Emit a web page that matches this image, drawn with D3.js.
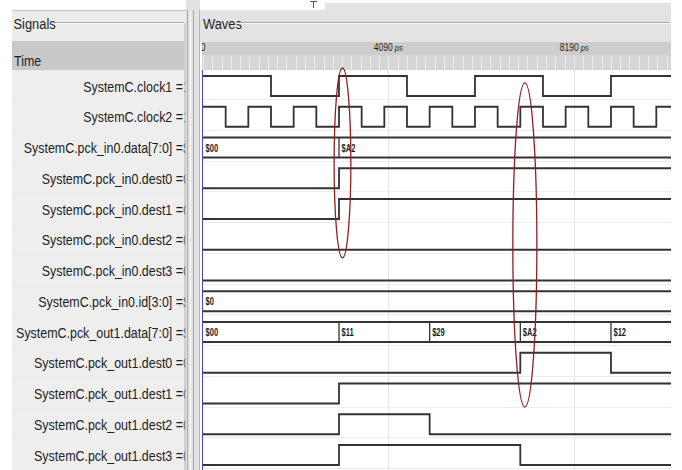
<!DOCTYPE html>
<html><head><meta charset="utf-8">
<script src="https://cdn.jsdelivr.net/npm/d3@7"></script>
<style>body{margin:0;background:#fff}svg{display:block}</style>
</head><body><svg id="c" width="682" height="470"></svg>
<script>
// ---------- data ----------
const signalNames = [
  "SystemC.clock1", "SystemC.clock2", "SystemC.pck_in0.data[7:0]",
  "SystemC.pck_in0.dest0", "SystemC.pck_in0.dest1", "SystemC.pck_in0.dest2",
  "SystemC.pck_in0.dest3", "SystemC.pck_in0.id[3:0]", "SystemC.pck_out1.data[7:0]",
  "SystemC.pck_out1.dest0", "SystemC.pck_out1.dest1", "SystemC.pck_out1.dest2",
  "SystemC.pck_out1.dest3"
];
const cursorValues = ["1", "1", "$A2", "0", "0", "0", "0", "$0", "$A2", "0", "0", "0", "0"];
const signalKinds = ["bit", "bit", "bus", "bit", "bit", "bit", "bit", "bus", "bus", "bit", "bit", "bit", "bit"];

const timeTickValues = [0, 4090, 8190];          // ps
const timeTickLabels = ["0", "4090 ps", "8190 ps"];
const timeEnd = 10324;                            // ps, right edge of the view
const minorTickStep = 204.5;                      // ps

// transitions: [time ps, value]
const clock1 = [[0,1],[1500,0],[3000,1],[4500,0],[6000,1],[7500,0],[9000,1]];
const clock2 = [[0,1],[500,0],[1000,1],[1500,0],[2000,1],[2500,0],[3000,1],[3500,0],
  [4000,1],[4500,0],[5000,1],[5500,0],[6000,1],[6500,0],[7000,1],[7500,0],
  [8000,1],[8500,0],[9000,1],[9500,0],[10000,1]];
const in0Data  = [[0,"$00"],[3000,"$A2"]];
const in0Dest0 = [[0,0],[3000,1]];
const in0Dest1 = [[0,0],[3000,1]];
const in0Dest2 = [[0,0]];
const in0Dest3 = [[0,0]];
const in0Id    = [[0,"$0"]];
const out1Data  = [[0,"$00"],[3000,"$11"],[5000,"$29"],[7000,"$A2"],[9000,"$12"]];
const out1Dest0 = [[0,0],[7000,1],[9000,0]];
const out1Dest1 = [[0,0],[3000,1]];
const out1Dest2 = [[0,0],[3000,1],[5000,0]];
const out1Dest3 = [[0,0],[3000,1],[7000,0]];
const signalData = [clock1, clock2, in0Data, in0Dest0, in0Dest1, in0Dest2, in0Dest3,
  in0Id, out1Data, out1Dest0, out1Dest1, out1Dest2, out1Dest3];

// red hand-drawn marks: centre time, half-width (ps), row span (row index units)
const marks = [
  {t: 3077, half: 185, rowTop: -0.585, rowBottom: 5.59},
  {t: 7100, half: 265, rowTop: -0.1, rowBottom: 10.44}
];

// ---------- layout ----------
const svg = d3.select("#c");
const FONT = "'Liberation Sans',Arial,sans-serif";
const NARROW = 0.83;
const waveLeft = 203, waveRight = 671;
const x = d3.scaleLinear().domain([0, timeEnd]).range([waveLeft, waveRight]);
const rowY = d3.scaleLinear().domain([0, 1]).range([86, 116.75]);
const pitch = rowY(1) - rowY(0);
const level = v => v ? -10 : 10;

function narrowText(parent, tx, ty, str, size, anchor, sx) {
  return parent.append("text")
    .attr("transform", `translate(${tx},${ty}) scale(${sx || NARROW},1)`)
    .attr("text-anchor", anchor || "start")
    .attr("font-family", FONT).attr("font-size", size).attr("fill", "#1e1e1e").text(str);
}

const defs = svg.append("defs");
defs.append("clipPath").attr("id", "labClip").append("rect")
  .attr("x", 0).attr("y", 0).attr("width", 185.5).attr("height", 470);
defs.append("clipPath").attr("id", "waveClip").append("rect")
  .attr("x", 202).attr("y", 0).attr("width", waveRight - 202).attr("height", 470);

// ---------- left panel ----------
const L = svg.append("g");
L.append("rect").attr("x", 12).attr("y", 10).attr("width", 174).attr("height", 460).attr("fill", "#ececec");
L.append("line").attr("x1", 12).attr("x2", 186).attr("y1", 10.5).attr("y2", 10.5).attr("stroke", "#c4c4c4");
narrowText(L, 13.5, 29, "Signals", 15.5);
L.append("line").attr("x1", 55).attr("x2", 184).attr("y1", 22.5).attr("y2", 22.5).attr("stroke", "#a6a6a6");
L.append("line").attr("x1", 55).attr("x2", 184).attr("y1", 23.5).attr("y2", 23.5).attr("stroke", "#fafafa");
L.append("rect").attr("x", 12).attr("y", 41).attr("width", 172).attr("height", 29).attr("fill", "#c9c9c9");
narrowText(L, 14, 66, "Time", 15);

const rowsL = L.append("g").attr("clip-path", "url(#labClip)")
  .selectAll("g.row").data(signalNames).join("g").attr("class", "row");
rowsL.append("rect").attr("x", 12).attr("y", (d, i) => rowY(i) - pitch / 2 + 0.5)
  .attr("width", 172).attr("height", pitch - 1).attr("fill", "#eeeeee");
rowsL.each(function (d, i) {
  const g = d3.select(this);
  narrowText(g, 183, rowY(i) + 5.5, d + " =", 15, "end");
  narrowText(g, 183.3, rowY(i) + 5.5, cursorValues[i], 15, "start");
});
L.append("line").attr("x1", 185).attr("x2", 185).attr("y1", 23).attr("y2", 470).attr("stroke", "#b0b0b0");

// splitter
svg.append("rect").attr("x", 186).attr("y", 0).attr("width", 14).attr("height", 470).attr("fill", "#e2e2e2");
[[187.5, "#a8a8a8"], [190.5, "#fbfbfb"], [193.5, "#a8a8a8"], [199.5, "#b8b8b8"]].forEach(([lx, c]) =>
  svg.append("line").attr("x1", lx).attr("x2", lx).attr("y1", 10).attr("y2", 470).attr("stroke", c));

// ---------- waves panel ----------
const W = svg.append("g");
W.append("rect").attr("x", 200).attr("y", 10).attr("width", waveRight - 200).attr("height", 32).attr("fill", "#e3e3e3");
W.append("rect").attr("x", 325).attr("y", 3).attr("width", waveRight - 325).attr("height", 8).attr("fill", "#e3e3e3");
W.append("line").attr("x1", 313.5).attr("x2", 313.5).attr("y1", 1).attr("y2", 8).attr("stroke", "#555");
W.append("line").attr("x1", 310).attr("x2", 317).attr("y1", 1.5).attr("y2", 1.5).attr("stroke", "#555");
narrowText(W, 203, 29, "Waves", 15.5);
W.append("line").attr("x1", 236).attr("x2", waveRight - 2).attr("y1", 22.5).attr("y2", 22.5).attr("stroke", "#a6a6a6");
W.append("line").attr("x1", 236).attr("x2", waveRight - 2).attr("y1", 23.5).attr("y2", 23.5).attr("stroke", "#fafafa");

// time label band and ruler strip
W.append("rect").attr("x", 202).attr("y", 42).attr("width", waveRight - 202).attr("height", 13).attr("fill", "#cdcdcd");
W.append("rect").attr("x", 202).attr("y", 55).attr("width", waveRight - 202).attr("height", 15).attr("fill", "#d6d6d6");
const TW = W.append("g").attr("clip-path", "url(#waveClip)");
TW.selectAll("line.minor").data(d3.range(0, timeEnd, minorTickStep)).join("line")
  .attr("x1", d => Math.round(x(d)) + 0.5).attr("x2", d => Math.round(x(d)) + 0.5)
  .attr("y1", 56).attr("y2", 69).attr("stroke", "#ececec");
timeTickValues.forEach((d, i) => {
  const parts = timeTickLabels[i].split(" ");
  const t = TW.append("text")
    .attr("transform", `translate(${x(d)},51) scale(0.85,1)`).attr("text-anchor", "middle")
    .attr("font-family", FONT).attr("font-size", 10).attr("fill", "#222");
  t.append("tspan").text(parts[0]);
  if (parts[1]) t.append("tspan").attr("font-style", "italic").attr("font-size", 9).text(" " + parts[1]);
});

// wave area
W.append("rect").attr("x", 202).attr("y", 70).attr("width", waveRight - 202).attr("height", 400).attr("fill", "#fff");
W.selectAll("line.grid").data(timeTickValues.slice(1)).join("line")
  .attr("x1", d => Math.round(x(d)) + 0.5).attr("x2", d => Math.round(x(d)) + 0.5)
  .attr("y1", 70).attr("y2", 470).attr("stroke", "#e6e6e6");
W.selectAll("line.sep").data(signalNames).join("line")
  .attr("x1", waveLeft).attr("x2", waveRight)
  .attr("y1", (d, i) => Math.round(rowY(i) + 13) + 0.5).attr("y2", (d, i) => Math.round(rowY(i) + 13) + 0.5)
  .attr("stroke", "#ededed");
W.append("line").attr("x1", 202.5).attr("x2", 202.5).attr("y1", 70).attr("y2", 470).attr("stroke", "#4848a8");

const WV = W.append("g").attr("clip-path", "url(#waveClip)");
const stroke = "#333", sw = 1.8;
const stepLine = d3.line().curve(d3.curveStepAfter);
signalData.forEach((data, i) => {
  const cy = rowY(i);
  if (signalKinds[i] === "bit") {
    const pts = data.map(([t, v]) => [x(t), cy + level(v)]);
    pts.push([x(timeEnd), cy + level(data[data.length - 1][1])]);
    WV.append("path").attr("d", stepLine(pts)).attr("fill", "none")
      .attr("stroke", stroke).attr("stroke-width", sw);
  } else {
    [-10, 10].forEach(o => WV.append("line").attr("x1", x(0)).attr("x2", x(timeEnd))
      .attr("y1", cy + o).attr("y2", cy + o).attr("stroke", stroke).attr("stroke-width", sw));
    data.forEach(([t, v]) => {
      if (t > 0) WV.append("line").attr("x1", x(t)).attr("x2", x(t))
        .attr("y1", cy - 10).attr("y2", cy + 10).attr("stroke", stroke).attr("stroke-width", 1.3);
      narrowText(WV, x(t) + 2.5, cy + 4, v, 10.5, "start", 0.72).attr("font-weight", "bold");
    });
  }
});

// red marks
svg.selectAll("ellipse.mark").data(marks).join("ellipse")
  .attr("cx", d => x(d.t)).attr("rx", d => x(d.t + d.half) - x(d.t))
  .attr("cy", d => (rowY(d.rowTop) + rowY(d.rowBottom)) / 2)
  .attr("ry", d => (rowY(d.rowBottom) - rowY(d.rowTop)) / 2)
  .attr("fill", "none").attr("stroke", "#8e1f24").attr("stroke-width", 1.3);
</script></body></html>
